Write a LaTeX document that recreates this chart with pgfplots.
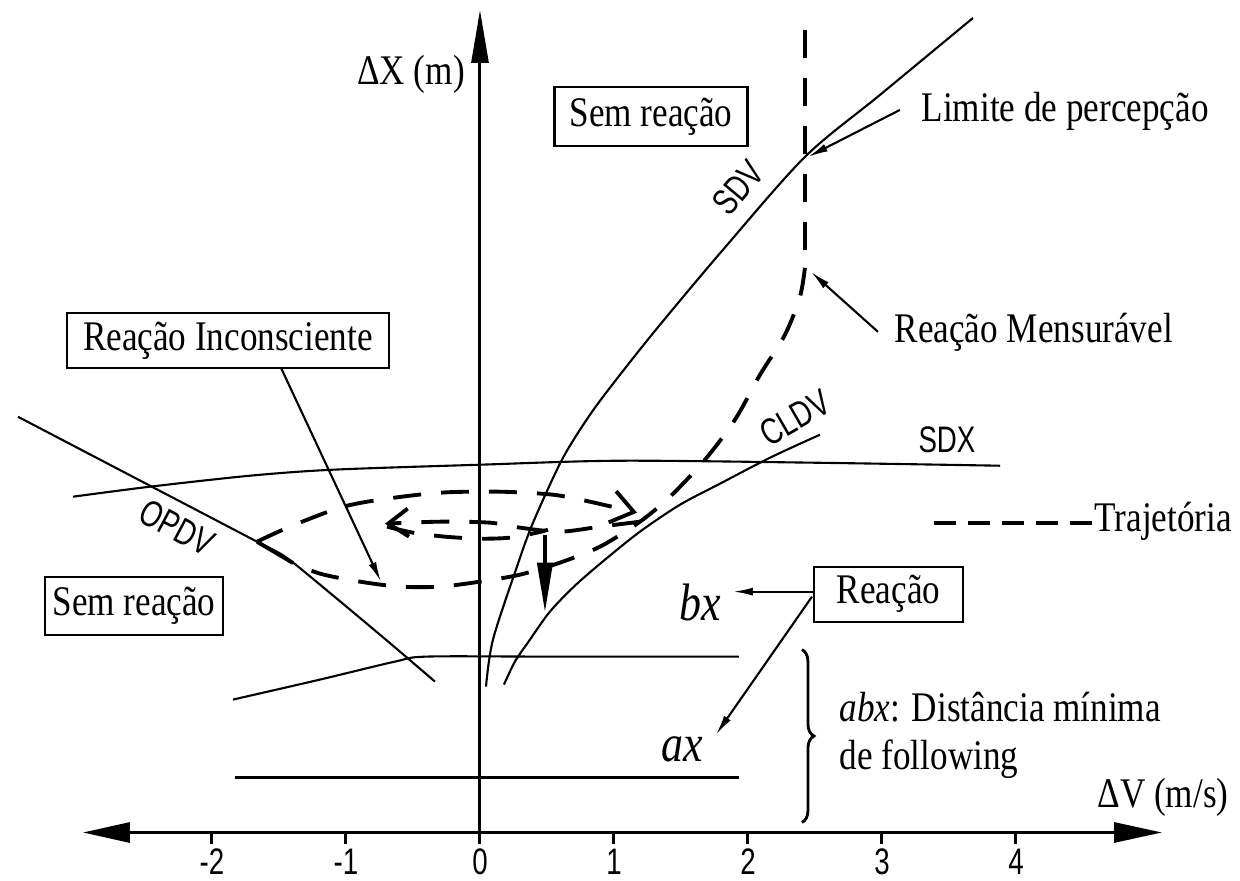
\documentclass[border=0pt]{standalone}
\usepackage{fontspec}
\setmainfont{Liberation Serif}
\newfontfamily\sansf{Liberation Sans}
\usepackage{graphicx}
\usepackage{pgfplots}
\pgfplotsset{compat=1.18}
\usetikzlibrary{arrows.meta,decorations.pathreplacing}
\newcommand\SRx[1]{\scalebox{1}[1.2]{#1}}
\newcommand\SSx[1]{\scalebox{0.75}[1]{#1}}
\begin{document}
\begin{tikzpicture}[
  serif/.style={font=\fontsize{10}{12}\selectfont, inner sep=0pt},
  ital/.style={font=\fontsize{12.5}{14}\selectfont\itshape, inner sep=0pt},
  sans/.style={font=\sansf\fontsize{10.5}{12}\selectfont, inner sep=0pt},
  box/.style={draw, line width=0.6pt, inner sep=0pt, font=\fontsize{10}{12}\selectfont},
  ann/.style={line width=0.6pt, -{Latex[length=0.2cm,width=0.08cm]}},
  traj/.style={line width=1.1pt, dash pattern=on 0.28cm off 0.2cm},
]
\begin{axis}[
  x=1.34cm, y=0.01cm,
  xmin=-2.963, xmax=5.090, ymin=0, ymax=823,
  axis lines=middle,
  enlargelimits=false,
  clip=false,
  hide obscured x ticks=false,
  axis line style={line width=0.85pt},
  x axis line style={{Triangle[length=0.47cm,width=0.2cm]}-{Triangle[length=0.48cm,width=0.2cm]}},
  y axis line style={-{Triangle[length=0.53cm,width=0.17cm]}},
  xtick={-2,-1,0,1,2,3,4},
  xticklabels={\SSx{-2},\SSx{-1},\SSx{0},\SSx{1},\SSx{2},\SSx{3},\SSx{4}},
  ytick=\empty,
  tick align=outside,
  major tick length=0.12cm,
  tick style={line width=0.85pt, black},
  xticklabel style={font=\sansf\fontsize{10.5}{12}\selectfont, inner sep=0pt, anchor=north, yshift=-0.04cm},
]
% tick marks below the axis line
\pgfplotsinvokeforeach{-2,-1,0,1,2,3,4}{\draw[line width=0.85pt] (#1,0) -- (#1,-11);}
% SDV
\addplot[line width=0.6pt, smooth] coordinates {(0.045,146)(0.097,193)(0.276,266)(0.396,310)(0.612,373)(0.821,418)(1.045,458)(1.343,508)(1.813,583)(2.425,676)(2.985,738)(3.679,815)};
% CLDV
\addplot[line width=0.6pt, smooth] coordinates {(0.179,148)(0.261,171)(0.373,193)(0.522,221)(0.709,247)(0.933,273)(1.194,301)(1.493,328)(1.791,349)(2.164,375)(2.537,398)};
% SDX
\addplot[line width=0.6pt, smooth] coordinates {(-3.037,336)(-2.463,346)(-1.716,357)(-1.097,363)(0,368)(1.045,372)(2.5,370)(3.881,367)};
% OPDV
\addplot[line width=0.6pt, smooth] coordinates {(-3.448,416)(-2.463,347)(-1.664,291)(-1.455,276)(-1.194,248)(-0.694,192)(-0.336,151)};
% bx
\addplot[line width=0.6pt, smooth] coordinates {(-1.843,133)(-1.194,153)(-0.634,171)(-0.396,176)(0.5,176)(1.933,176)};
% ax
\addplot[line width=0.6pt] coordinates {(-1.828,55)(1.933,55)};
% trajectory
\addplot[traj] coordinates {(2.425,803)(2.425,565)};
\addplot[traj, smooth] coordinates {(2.425,565)(2.388,536)(2.276,498)(2.090,458)(1.903,413)(1.679,373)(1.418,336)(1.194,311)(0.896,286)(0.597,270)(0.299,258)(0,251)(-0.299,246)(-0.597,246)(-0.896,251)(-1.194,259)(-1.400,270)};
\addplot[line width=1.1pt] coordinates {(-1.400,270)(-1.664,291)};
\addplot[traj, smooth, -{Straight Barb[length=0.22cm,width=0.32cm]}] coordinates {(-1.664,291)(-1.418,306)(-1.045,325)(-0.746,333)(-0.299,340)(0.149,341)(0.545,338)(0.821,331)(1.172,320)};
\addplot[traj, smooth, -{Straight Barb[length=0.2cm,width=0.28cm]}] coordinates {(1.194,311)(0.896,306)(0.597,301)(0.299,305)(0.075,310)(-0.299,311)(-0.709,309)};
\addplot[traj, smooth] coordinates {(-0.694,306)(-0.5,300)(-0.261,296)(0,294)(0.224,295)(0.425,300)(0.507,303)};
\addplot[line width=1.2pt, -{Triangle[length=0.5cm,width=0.15cm]}] coordinates {(0.485,298)(0.485,220)};
% legend
\addplot[line width=1.1pt, dash pattern=on 0.22cm off 0.12cm] coordinates {(3.388,310)(4.567,310)};
\node[serif, anchor=base west] at (4.582,301) {\SRx{Trajetória}};
% annotation arrows
\draw[ann] (3.134,723) -- (2.448,676);
\draw[ann] (2.970,501) -- (2.470,561);
\draw[ann] (2.485,241) -- (1.888,241);
\draw[ann] (2.478,236) -- (1.761,98);
\draw[ann] (-1.485,465) -- (-0.739,251);
% brace
\draw[line width=0.8pt, decorate, decoration={brace, amplitude=0.12cm}] (2.403,183) -- (2.403,10);
% texts
\node[serif, anchor=base] at (-0.515,748) {\SRx{ΔX (m)}};
\node[box, minimum width=1.93cm, minimum height=0.59cm] at (1.276,716) {\SRx{Sem reação}};
\node[box, minimum width=3.22cm, minimum height=0.55cm] at (-1.881,492.5) {\SRx{Reação Inconsciente}};
\node[box, minimum width=1.78cm, minimum height=0.58cm] at (-2.582,227) {\SRx{Sem reação}};
\node[box, minimum width=1.49cm, minimum height=0.55cm] at (3.049,238.5) {\SRx{Reação}};
\node[serif, anchor=base west] at (3.291,711) {\SRx{Limite de percepção}};
\node[serif, anchor=base west] at (3.090,490) {\SRx{Reação Mensurável}};
\node[serif, anchor=base west] at (2.679,111) {\SRx{\textit{abx}: Distância mínima}};
\node[serif, anchor=base west] at (2.679,63) {\SRx{de following}};
\node[serif, anchor=base] at (5.097,25) {\SRx{ΔV (m/s)}};
\node[ital] at (1.642,230) {\SRx{bx}};
\node[ital] at (1.507,83) {\SRx{ax}};
\node[sans, rotate=50] at (1.925,645) {\SSx{SDV}};
\node[sans, rotate=30] at (2.35,415) {\SSx{CLDV}};
\node[sans] at (3.485,393) {\SSx{SDX}};
\node[sans, rotate=-28] at (-2.261,305) {\SSx{OPDV}};
\coordinate (BL) at (-3.582,-48);
\coordinate (TR) at (5.672,833);
\end{axis}
\pgfresetboundingbox
\path (BL) rectangle (TR);
\end{tikzpicture}
\end{document}
